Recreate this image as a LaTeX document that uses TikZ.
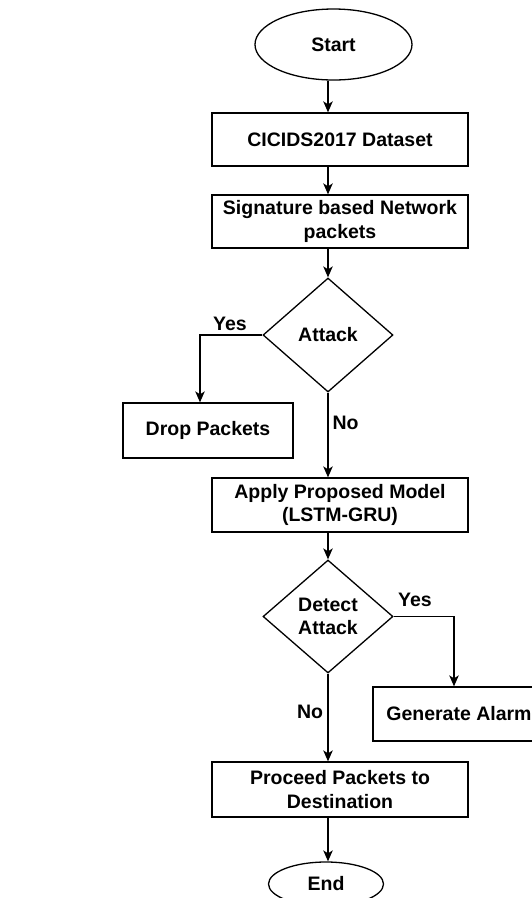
\documentclass[tikz,border=0pt]{standalone}
\usepackage{fontspec}
\setmainfont{Liberation Sans}
\usetikzlibrary{shapes.geometric,arrows.meta}
\begin{document}
\begin{tikzpicture}[x=1pt,y=-1pt,
  every node/.style={font=\fontsize{19.5}{23.5}\selectfont\bfseries, align=center, inner sep=0pt},
  box/.style={draw, line width=1.3pt, rectangle},
  term/.style={draw, line width=1.3pt, ellipse},
  dec/.style={draw, line width=1.3pt, diamond},
  lbl/.style={anchor=base},
  arr/.style={line width=1.3pt, -{Stealth[length=11pt,width=9.5pt,inset=3pt]}}]
\useasboundingbox (0,0) rectangle (532,898);
\clip (0,0) rectangle (532,898);
\fill[white] (0,0) rectangle (532,898);
\coordinate (ax) at (328,0);
\node[term, minimum width=157pt, minimum height=71pt] (start) at (333.5,44.5) {Start};
\node[box, minimum width=256pt, minimum height=53pt] (ds) at (340,139.5) {CICIDS2017 Dataset};
\node[box, minimum width=256pt, minimum height=53pt] (sig) at (340,221.5) {Signature based Network\\packets};
\node[dec, minimum width=130pt, minimum height=114pt] (attack) at (328,335) {Attack};
\node[box, minimum width=170pt, minimum height=55pt] (drop) at (208,430.5) {Drop Packets};
\node[box, minimum width=256pt, minimum height=54pt] (apply) at (340,505) {Apply Proposed Model\\(LSTM-GRU)};
\node[dec, minimum width=130pt, minimum height=113pt] (detect) at (328,616.5) {Detect\\Attack};
\node[box, minimum width=172pt, minimum height=54pt] (alarm) at (459,714) {Generate Alarm};
\node[box, minimum width=256pt, minimum height=55pt] (proc) at (340,789.5) {Proceed Packets to\\Destination};
\node[term, minimum width=115pt, minimum height=44pt] (end) at (326,884) {End};
\draw[arr] (start.south -| ax) -- (ds.north -| ax);
\draw[arr] (ds.south -| ax) -- (sig.north -| ax);
\draw[arr] (sig.south -| ax) -- (attack.north);
\draw[arr] (attack.west) -| ([xshift=-8pt]drop.north);
\draw[arr] (attack.south) -- (apply.north -| ax);
\draw[arr] (apply.south -| ax) -- (detect.north);
\draw[arr] (detect.east) -| ([xshift=-5pt]alarm.north);
\draw[arr] (detect.south) -- (proc.north -| ax);
\draw[arr] (proc.south -| ax) -- (end.north -| ax);
\node[lbl] (yes1) at (230,330) {Yes};
\node[lbl] (no1) at (345.5,429) {No};
\node[lbl] (yes2) at (415,606) {Yes};
\node[lbl] (no2) at (310,718) {No};
\end{tikzpicture}
\end{document}
